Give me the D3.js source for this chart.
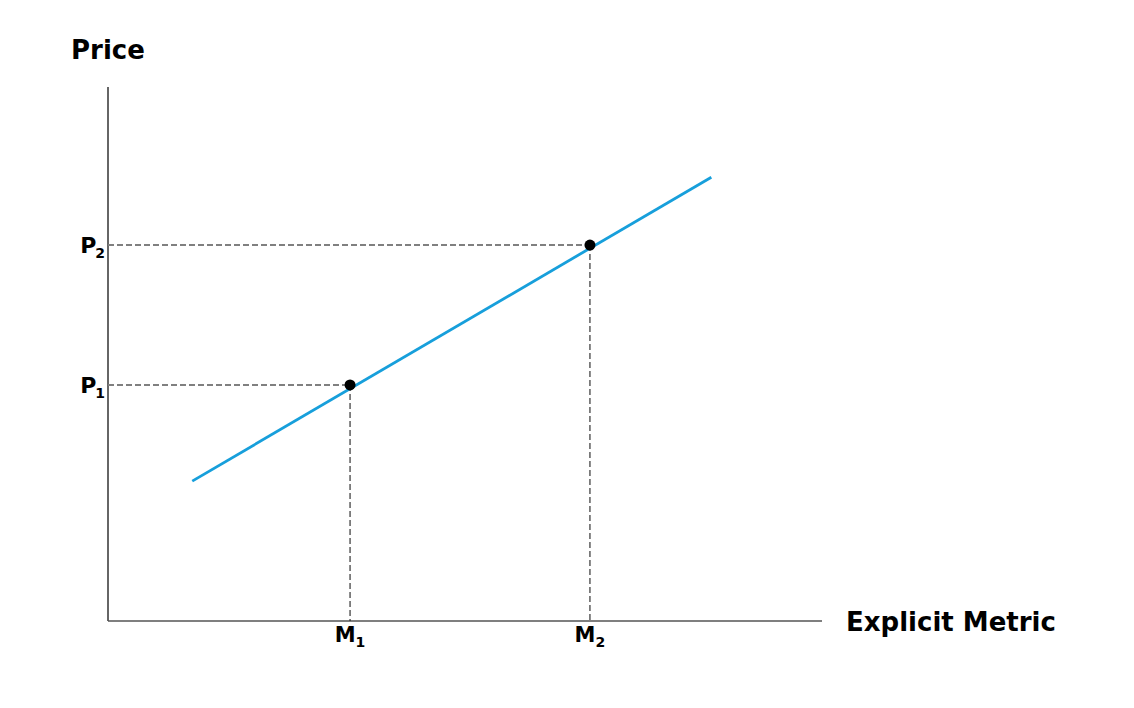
<!DOCTYPE html>
<html><head><meta charset="utf-8">
<script src="https://cdn.jsdelivr.net/npm/d3@7"></script>
<style>body{margin:0;background:#fff}svg{display:block}text{font-family:"DejaVu Sans",sans-serif;font-weight:bold;fill:#000}</style>
</head><body>
<script>
const lineX = [1.18, 8.45];
const lineY = [2.62, 8.31];
const pointsX = [3.39, 6.75];
const pointsY = [4.42, 7.04];
const xTickLabels = ["M", "M"];
const xTickSubs = ["1", "2"];
const yTickLabels = ["P", "P"];
const yTickSubs = ["1", "2"];
const xTitle = "Explicit Metric";
const yTitle = "Price";

const W = 1134, H = 708;
const svg = d3.select("body").append("svg").attr("width", W).attr("height", H);
const x = d3.scaleLinear().domain([0, 10]).range([108, 822]);
const y = d3.scaleLinear().domain([0, 10]).range([621, 87]);

// axes lines
svg.append("line").attr("x1", x(0)).attr("x2", x(0)).attr("y1", y(0)).attr("y2", y(10))
  .attr("stroke", "#333").attr("stroke-width", 1.5);
svg.append("line").attr("x1", x(0)).attr("x2", x(10)).attr("y1", y(0)).attr("y2", y(0))
  .attr("stroke", "#555").attr("stroke-width", 1.5);

// guides
pointsX.forEach((px, i) => {
  svg.append("line").attr("x1", x(0)).attr("x2", x(px)).attr("y1", y(pointsY[i])).attr("y2", y(pointsY[i]))
    .attr("stroke", "#808080").attr("stroke-width", 2).attr("stroke-dasharray", "6,3");
  svg.append("line").attr("x1", x(px)).attr("x2", x(px)).attr("y1", y(pointsY[i])).attr("y2", y(0))
    .attr("stroke", "#222").attr("stroke-width", 1.1).attr("stroke-dasharray", "6,3");
});

// line
svg.append("path").datum(lineX.map((v, i) => [v, lineY[i]]))
  .attr("d", d3.line().x(d => x(d[0])).y(d => y(d[1])))
  .attr("fill", "none").attr("stroke", "#179fdb").attr("stroke-width", 2.8);

// points
svg.selectAll("circle.pt").data(pointsX).join("circle").attr("class", "pt")
  .attr("cx", d => x(d)).attr("cy", (d, i) => y(pointsY[i])).attr("r", 5.5).attr("fill", "#000");

// x tick labels
pointsX.forEach((px, i) => {
  const t = svg.append("text").attr("x", x(px)).attr("y", 642).attr("text-anchor", "middle").style("font-size", "21px");
  t.append("tspan").text(xTickLabels[i]);
  t.append("tspan").text(xTickSubs[i]).style("font-size", "14px").attr("dy", 5).attr("dx", 0);
});
// y tick labels
pointsY.forEach((py, i) => {
  const t = svg.append("text").attr("x", 105).attr("y", y(py) + 8).attr("text-anchor", "end").style("font-size", "22px");
  t.append("tspan").text(yTickLabels[i]);
  t.append("tspan").text(yTickSubs[i]).style("font-size", "14px").attr("dy", 5).attr("dx", -1);
});

svg.append("text").attr("x", 71).attr("y", 59).style("font-size", "26px").text(yTitle);
svg.append("text").attr("x", 846).attr("y", 631).style("font-size", "26px").text(xTitle);
</script>
</body></html>
